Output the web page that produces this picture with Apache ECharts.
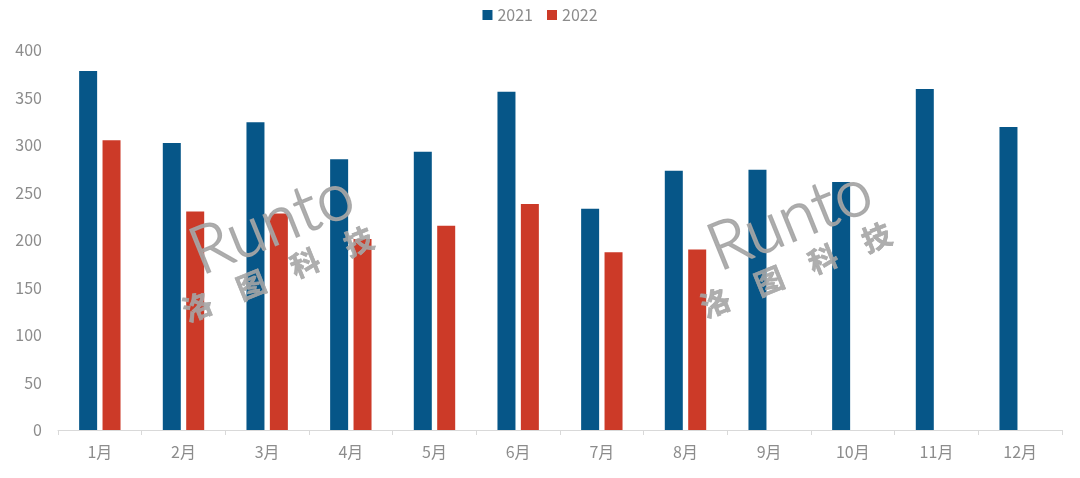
<!DOCTYPE html>
<html>
<head>
<meta charset="utf-8">
<script src="https://cdn.jsdelivr.net/npm/echarts@6/dist/echarts.min.js"></script>
<style>html,body{margin:0;padding:0;background:#fff}#c{width:1080px;height:478px}</style>
</head>
<body>
<div id="c"></div>
<script>
const categories = ['1月','2月','3月','4月','5月','6月','7月','8月','9月','10月','11月','12月'];
const seriesNames = ['2021','2022'];
const values2021 = [378, 302, 324, 285, 293, 356, 233, 273, 274, 261, 359, 319];
const values2022 = [305, 230, 228, 201, 215, 238, 187, 190, null, null, null, null];
const yTicks = [0, 50, 100, 150, 200, 250, 300, 350, 400];

const FONT = '"Noto Sans CJK SC", "Noto Sans", sans-serif';
const textGrey = '#8c8c8c';
const rot = 22 * Math.PI / 180;
const wmColor = 'rgba(165,165,165,0.9)';

function watermark(cx, cy) {
  return [
    {type: 'text', x: cx, y: cy - 24, rotation: rot, z: 100,
     style: {text: 'Runto', fill: wmColor, stroke: wmColor, lineWidth: 1.4,
             fontFamily: 'Lato', fontWeight: 300, fontSize: 66,
             textAlign: 'center', textVerticalAlign: 'middle'}},
    {type: 'text', x: cx + 6, y: cy + 26, rotation: rot, z: 100,
     style: {text: '洛　图　科　技', fill: wmColor, stroke: wmColor, lineWidth: 0.7,
             fontFamily: '"Noto Sans CJK SC"', fontWeight: 'bold', fontSize: 29,
             textAlign: 'center', textVerticalAlign: 'middle'}}
  ];
}

const chart = echarts.init(document.getElementById('c'), null, {renderer: 'canvas'});
chart.setOption({
  animation: false,
  backgroundColor: '#ffffff',
  textStyle: {fontFamily: FONT},
  legend: {
    top: 2, left: 'center', icon: 'rect', itemWidth: 10, itemHeight: 10, itemGap: 14,
    textStyle: {color: textGrey, fontSize: 16, fontFamily: FONT},
    data: seriesNames
  },
  grid: {left: 58, right: 18, top: 50, bottom: 48, containLabel: false},
  xAxis: {
    type: 'category', data: categories,
    axisLine: {lineStyle: {color: '#d9d9d9', width: 1}},
    axisTick: {show: true, length: 5, lineStyle: {color: '#d9d9d9'}},
    axisLabel: {color: textGrey, fontSize: 16, margin: 14, fontFamily: FONT}
  },
  yAxis: {
    type: 'value', min: yTicks[0], max: yTicks[yTicks.length - 1], interval: yTicks[1] - yTicks[0],
    axisLine: {show: false}, axisTick: {show: false},
    splitLine: {show: false},
    axisLabel: {color: textGrey, fontSize: 16, margin: 16, fontFamily: FONT}
  },
  series: [
    {name: seriesNames[0], type: 'bar', data: values2021, barWidth: 18, barGap: '30%',
     itemStyle: {color: '#065688'}},
    {name: seriesNames[1], type: 'bar', data: values2022, barWidth: 18, barGap: '30%',
     itemStyle: {color: '#cc3a28'}}
  ],
  graphic: [].concat(watermark(272, 248), watermark(790, 244))
});
</script>
</body>
</html>
